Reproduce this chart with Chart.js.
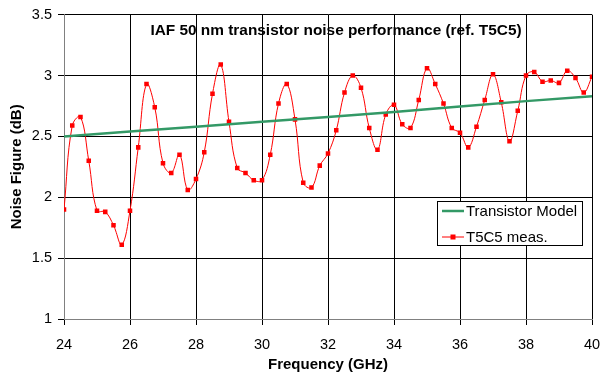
<!DOCTYPE html>
<html>
<head>
<meta charset="utf-8">
<script src="https://cdn.jsdelivr.net/npm/chart.js@4"></script>
<style>
html,body{margin:0;padding:0;background:#fff;}
#wrap{width:601px;height:376px;position:relative;}
</style>
</head>
<body>
<div id="wrap"><canvas id="c" width="601" height="376"></canvas></div>
<script>
const chartTitle = 'IAF 50 nm transistor noise performance (ref. T5C5)';
const xTitle = 'Frequency (GHz)';
const yTitle = 'Noise Figure (dB)';
const modelLabel = 'Transistor Model';
const measLabel = 'T5C5 meas.';

const measFreq = [24,24.25,24.5,24.75,25,25.25,25.5,25.75,26,26.25,26.5,26.75,27,27.25,27.5,27.75,
  28,28.25,28.5,28.75,29,29.25,29.5,29.75,30,30.25,30.5,30.75,31,31.25,31.5,31.75,
  32,32.25,32.5,32.75,33,33.25,33.5,33.75,34,34.25,34.5,34.75,35,35.25,35.5,35.75,
  36,36.25,36.5,36.75,37,37.25,37.5,37.75,38,38.25,38.5,38.75,39,39.25,39.5,39.75,40];
const measNF = [1.90,2.59,2.66,2.30,1.89,1.88,1.77,1.61,1.89,2.41,2.93,2.74,2.28,2.20,2.35,2.06,
  2.15,2.37,2.85,3.09,2.62,2.24,2.20,2.14,2.14,2.35,2.77,2.93,2.64,2.12,2.08,2.26,
  2.36,2.55,2.86,3.00,2.90,2.57,2.39,2.68,2.76,2.60,2.57,2.80,3.06,2.93,2.77,2.57,
  2.53,2.41,2.58,2.80,3.01,2.78,2.46,2.71,3.00,3.03,2.95,2.96,2.94,3.04,2.98,2.86,2.99];

const modelFreq = [24,26,28,30,32,34,36,38,40];
const modelNF = [2.50,2.54,2.58,2.62,2.66,2.70,2.745,2.79,2.83];

const xTicks = [24,26,28,30,32,34,36,38,40];
const yTicks = [1,1.5,2,2.5,3,3.5];

const FONT = '"Liberation Sans", Arial, sans-serif';
const GREEN = '#339966';
const RED = '#ff0000';

const titlePlugin = {
  id: 'innerTitle',
  afterDraw(chart) {
    const ctx = chart.ctx;
    ctx.save();
    ctx.font = 'bold 15.4px ' + FONT;
    ctx.fillStyle = '#000';
    ctx.textAlign = 'center';
    ctx.textBaseline = 'middle';
    ctx.fillText(chartTitle, 336, 31);
    ctx.restore();
  }
};

const legendPlugin = {
  id: 'boxLegend',
  afterDraw(chart) {
    const ctx = chart.ctx;
    const ds = chart.data.datasets;
    const L = 437.5, T = 201.5, W = 145, H = 44;
    ctx.save();
    ctx.fillStyle = '#fff';
    ctx.fillRect(L, T, W, H);
    ctx.strokeStyle = '#000';
    ctx.lineWidth = 1;
    ctx.strokeRect(L, T, W, H);
    ctx.font = '15px ' + FONT;
    ctx.textBaseline = 'middle';
    ctx.textAlign = 'left';
    const rows = [211, 237];
    ds.forEach((d, i) => {
      const y = rows[i];
      ctx.strokeStyle = d.borderColor;
      ctx.lineWidth = d.borderWidth;
      ctx.beginPath();
      ctx.moveTo(442, y);
      ctx.lineTo(464, y);
      ctx.stroke();
      if (d.pointRadius > 0) {
        ctx.fillStyle = d.pointBackgroundColor;
        ctx.fillRect(450.5, y - 2.5, 5, 5);
      }
      ctx.fillStyle = '#000';
      ctx.fillText(d.label, 466, y + 0.5);
    });
    ctx.restore();
  }
};

new Chart(document.getElementById('c'), {
  type: 'line',
  data: {
    datasets: [
      {
        label: modelLabel,
        data: modelFreq.map((f, i) => ({x: f, y: modelNF[i]})),
        borderColor: GREEN,
        backgroundColor: GREEN,
        borderWidth: 2.5,
        pointRadius: 0,
        tension: 0
      },
      {
        label: measLabel,
        data: measFreq.map((f, i) => ({x: f, y: measNF[i]})),
        borderColor: RED,
        backgroundColor: RED,
        pointBackgroundColor: RED,
        pointBorderColor: RED,
        borderWidth: 1,
        pointStyle: 'rect',
        pointRadius: 3.2,
        pointBorderWidth: 0,
        tension: 0.4
      }
    ]
  },
  options: {
    responsive: false,
    animation: false,
    devicePixelRatio: 1,
    layout: {padding: {left: 0, right: 0, top: 11, bottom: 0}},
    plugins: {legend: {display: false}, tooltip: {enabled: false}, title: {display: false}},
    scales: {
      x: {
        type: 'linear',
        min: 24, max: 40,
        afterBuildTicks(s) { s.ticks = xTicks.map(v => ({value: v})); },
        afterFit(s) { s.height = 57; s.paddingRight = 9; s.paddingLeft = 0; },
        ticks: {color: '#000', font: {family: FONT, size: 14.5}, padding: 11, maxRotation: 0,
          callback: v => String(v)},
        grid: {color: '#000', lineWidth: 1, tickLength: 6, drawTicks: true},
        border: {color: '#808080', width: 1},
        title: {display: true, text: xTitle, color: '#000', font: {family: FONT, size: 15, weight: 'bold'},
          padding: {top: 0, bottom: 2}}
      },
      y: {
        type: 'linear',
        min: 1, max: 3.5,
        afterBuildTicks(s) { s.ticks = yTicks.map(v => ({value: v})); },
        afterFit(s) { s.width = 64; },
        ticks: {color: '#000', font: {family: FONT, size: 14.5}, padding: 6,
          callback: v => String(v)},
        grid: {color: '#000', lineWidth: 1, tickLength: 6, drawTicks: true},
        border: {color: '#808080', width: 1},
        title: {display: true, text: yTitle, color: '#000', font: {family: FONT, size: 15, weight: 'bold'},
          padding: {top: 8, bottom: 0}}
      }
    }
  },
  plugins: [titlePlugin, legendPlugin]
});
</script>
</body>
</html>
